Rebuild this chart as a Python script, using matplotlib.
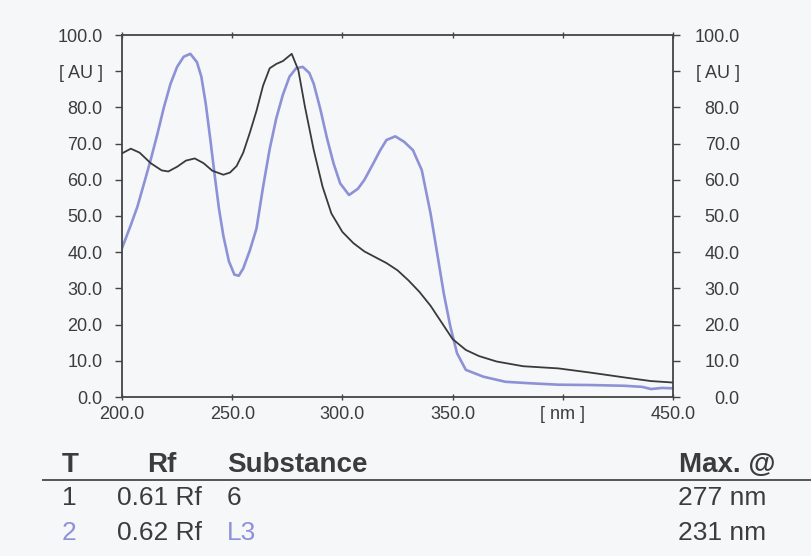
import matplotlib
matplotlib.use("Agg")
import matplotlib.pyplot as plt

# UV spectra of two TLC spots
wl_6 = [200, 204, 208, 213, 218, 221, 225, 229, 233, 237, 241, 246, 249, 252,
        255, 258, 261, 264, 267, 270, 273, 277, 280, 283, 287, 291, 295, 300,
        305, 310, 315, 320, 325, 330, 335, 340, 345, 350, 356, 362, 370, 382,
        398, 413, 428, 440, 450]
au_6 = [67.3, 68.6, 67.5, 64.6, 62.6, 62.3, 63.6, 65.3, 65.9, 64.6, 62.5, 61.4,
        62.0, 63.8, 67.5, 73.0, 79.0, 86.0, 90.8, 92.0, 92.8, 94.8, 90.3, 80.2,
        68.2, 58.1, 50.7, 45.6, 42.5, 40.2, 38.6, 37.0, 35.0, 32.2, 29.0, 25.2,
        20.6, 16.0, 13.0, 11.3, 9.8, 8.5, 7.9, 6.7, 5.4, 4.4, 4.0]

wl_l3 = [200, 204, 207, 210, 213, 216, 219, 222, 225, 228, 231, 234, 236, 238,
         240, 242, 244, 246, 248.5, 251, 253, 255, 258, 261, 264, 267, 270, 273,
         276, 279, 282, 285, 287, 290, 293, 296, 299, 303, 307, 310, 314, 317,
         320, 324, 328, 332, 336, 340, 343, 346, 349, 352, 356, 364, 374, 385,
         398, 413, 428, 436, 440, 445, 450]
au_l3 = [41.1, 47.5, 52.6, 59.0, 65.5, 72.5, 80.0, 86.5, 91.2, 94.0, 94.8, 92.5,
         88.5, 81.0, 71.5, 61.5, 52.0, 44.5, 37.5, 33.8, 33.5, 35.5, 40.5, 46.5,
         58.0, 68.5, 77.0, 83.5, 88.5, 90.8, 91.2, 89.5, 86.5, 79.5, 71.5, 64.5,
         59.0, 55.8, 57.5, 60.0, 64.5, 68.0, 71.0, 72.0, 70.5, 68.2, 62.7, 50.7,
         39.7, 28.6, 19.4, 12.1, 7.5, 5.6, 4.2, 3.8, 3.4, 3.3, 3.1, 2.8, 2.2,
         2.5, 2.4]

x_ticks = [200, 250, 300, 350, 400, 450]
x_labels = ["200.0", "250.0", "300.0", "350.0", "[ nm ]", "450.0"]
y_ticks = [0, 10, 20, 30, 40, 50, 60, 70, 80, 90, 100]
y_labels = ["0.0", "10.0", "20.0", "30.0", "40.0", "50.0", "60.0", "70.0",
            "80.0", "[ AU ]", "100.0"]

table_header = ["T", "Rf", "Substance", "Max. @"]
track = ["1", "2"]
rf = ["0.61 Rf", "0.62 Rf"]
substance = ["6", "L3"]
max_at = ["277 nm", "231 nm"]

BG = "#f6f7f9"
INK = "#3c3c3c"
BLUE = "#8d91d6"

plt.rcParams["font.family"] = ["Liberation Sans", "DejaVu Sans"]

W, H = 811, 556
fig = plt.figure(figsize=(W / 100, H / 100), dpi=100, facecolor=BG)
ax = fig.add_axes([122 / W, 1 - 397 / H, (673 - 122) / W, (397 - 35) / H])
ax.set_facecolor(BG)

ax.plot(wl_l3, au_l3, color=BLUE, lw=1.9, solid_joinstyle="round", zorder=2)
ax.plot(wl_6, au_6, color="#3a3a3a", lw=1.3, solid_joinstyle="round", zorder=3)

ax.set_xlim(200, 450)
ax.set_ylim(0, 100)
for s in ax.spines.values():
    s.set_color("#444444")
    s.set_linewidth(1.3)

ax.set_xticks(x_ticks)
ax.set_xticklabels(x_labels)
ax.set_yticks(y_ticks)
ax.set_yticklabels(y_labels)
ax.tick_params(axis="x", direction="inout", length=5, width=1, colors="#444444",
               labelsize=13, labelcolor=INK, pad=4, top=True)
ax.tick_params(axis="y", direction="out", length=5, width=1, colors="#444444",
               labelsize=13, labelcolor=INK, pad=9)

ax2 = ax.twinx()
ax2.set_ylim(0, 100)
ax2.set_yticks(y_ticks)
ax2.set_yticklabels(y_labels)
ax2.tick_params(axis="y", direction="out", length=5, width=1, colors="#444444",
                labelsize=13, labelcolor=INK, pad=43)
for lbl in ax2.get_yticklabels():
    lbl.set_horizontalalignment("right")
for s in ax2.spines.values():
    s.set_visible(False)


def px(x, y):
    return x / W, 1 - y / H


# result table beneath the spectrum
hdr_x = [62, 147, 227, 679]
for x, t in zip(hdr_x, table_header):
    fig.text(*px(x, 472), t, fontsize=20, fontweight="bold", color=INK,
             va="baseline", ha="left")
fig.add_artist(plt.Line2D([43 / W, 1.0], [1 - 480 / H] * 2, color="#555555", lw=1.4,
                          transform=fig.transFigure))

row_y = [505, 540]
colors = [INK, BLUE]
for i in range(2):
    y = row_y[i]
    fig.text(*px(62, y), track[i], fontsize=19, color=colors[i], va="baseline")
    fig.text(*px(117, y), rf[i], fontsize=19, color=INK, va="baseline")
    fig.text(*px(227, y), substance[i], fontsize=19, color=colors[i], va="baseline")
    fig.text(*px(678, y), max_at[i], fontsize=19, color=INK, va="baseline")

fig.savefig("out.png", dpi=100, facecolor=BG)
